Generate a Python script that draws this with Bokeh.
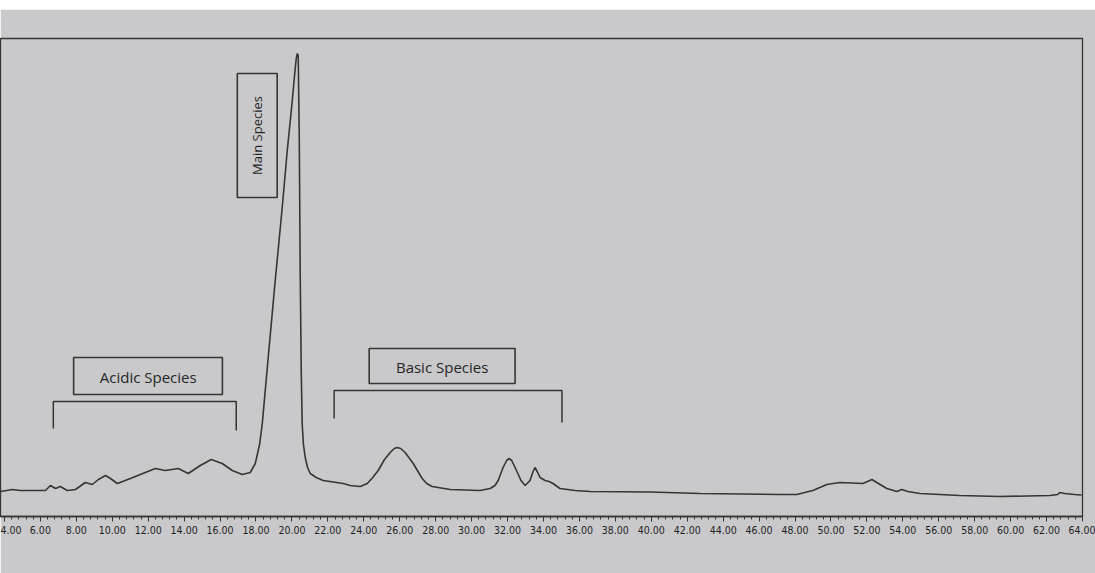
import math
from bokeh.plotting import figure
from bokeh.models import (Range1d, SingleIntervalTicker, PrintfTickFormatter, Label,
                          BoxAnnotation, Div)
from bokeh.layouts import column
from bokeh.embed import file_html
from bokeh.resources import INLINE

# Chromatogram trace: retention time (minutes) and detector signal (arbitrary units)
minutes = [3.78, 4.44, 4.89, 6.28, 6.56, 6.84, 7.11, 7.50, 7.95, 8.50, 8.89, 9.23, 9.62, 9.90,
           10.28, 11.01, 11.84, 12.40, 12.95, 13.68, 14.23, 14.90, 15.51, 16.12, 16.68, 17.24,
           17.68, 17.96, 18.20, 18.35, 18.68, 19.07, 19.46, 19.74, 20.02, 20.15, 20.24, 20.30,
           20.35, 20.41, 20.46, 20.52, 20.57, 20.64, 20.74, 20.87, 21.02, 21.35, 21.74, 22.85,
           23.24, 23.80, 24.19, 24.50, 24.80, 25.15, 25.47, 25.70, 25.86, 26.05, 26.30, 26.75,
           27.25, 27.50, 27.80, 28.81, 30.47, 31.03, 31.30, 31.48, 31.75, 31.95, 32.09, 32.23,
           32.42, 32.75, 32.98, 33.25, 33.42, 33.53, 33.65, 33.81, 34.09, 34.31, 34.53, 34.92,
           35.76, 36.59, 39.93, 42.71, 47.16, 48.10, 48.99, 49.77, 50.50, 51.78, 52.16, 52.28,
           52.55, 53.11, 53.67, 53.94, 54.28, 54.95, 57.17, 59.40, 62.18, 62.62, 62.73, 63.01,
           63.57, 63.95]
signal = [25, 27, 26, 26, 31, 28, 30, 26, 27, 34, 32, 37, 41, 38,
          33, 38, 44, 48, 46, 48, 43, 51, 57, 53, 46, 42,
          44, 53, 72, 93, 159, 236, 309, 366, 416, 442, 458, 463,
          461, 376, 243, 143, 93, 72, 59, 49, 43, 39, 36, 33,
          31, 30, 33, 39, 46, 57, 64, 68, 69, 68, 64, 53,
          38, 33, 30, 27, 26, 28, 31, 36, 49, 56, 58, 56,
          49, 36, 31, 36, 45, 49, 45, 39, 36, 35, 33, 28,
          26, 25, 24.5, 23, 22, 22, 26, 32, 34, 33, 36, 37,
          34, 28, 25, 27, 25, 23, 21, 20, 21, 22, 24, 23,
          22, 21.5]

tick_interval = 2.0
x_start, x_end = 3.78, 64.0
y_start, y_end = 0, 478

# Annotations
acidic_text = "Acidic Species"
basic_text = "Basic Species"
main_text = "Main Species"

PAPER = "#c9c9cb"
INK = "#353535"
TICK_FONT = "DejaVu Sans Condensed, Liberation Sans, sans-serif"

p = figure(width=1095, height=564, output_backend="svg", toolbar_location=None,
           x_range=Range1d(x_start, x_end), y_range=Range1d(y_start, y_end),
           min_border_left=0, min_border_right=13, min_border_top=29, min_border_bottom=57)
p.background_fill_color = PAPER
p.border_fill_color = PAPER
p.outline_line_color = INK
p.outline_line_width = 1.3
p.grid.visible = False
p.yaxis.visible = False

ax = p.xaxis[0]
ax.ticker = SingleIntervalTicker(interval=tick_interval, num_minor_ticks=5)
ax.formatter = PrintfTickFormatter(format="%.2f")
ax.axis_line_color = INK
ax.axis_line_width = 1.3
ax.major_tick_line_color = INK
ax.minor_tick_line_color = INK
ax.major_tick_in = 0
ax.major_tick_out = 5
ax.minor_tick_in = 0
ax.minor_tick_out = 3
ax.major_label_standoff = 4
ax.major_label_text_font = TICK_FONT
ax.major_label_text_font_size = "10.5px"
ax.major_label_text_color = "#1e1e1e"

p.line(minutes, signal, line_color=INK, line_width=1.6)

# "Minutes" axis title
p.add_layout(Label(x=32.25, y=-33, text="Minutes", text_align="center", text_baseline="middle",
                   text_font=TICK_FONT, text_font_style="bold",
                   text_font_size="10.5px", text_color="#1e1e1e"))

def box(l, r, b, t):
    p.add_layout(BoxAnnotation(left=l, right=r, bottom=b, top=t, fill_alpha=0,
                               line_color=INK, line_alpha=1, line_width=1.6))

def bracket(l, r, y, yl, yr):
    p.line([l, l, r, r], [yl, y, y, yr], line_color=INK, line_width=1.5)

# Acidic species
box(7.85, 16.13, 122, 159)
p.add_layout(Label(x=12.0, y=140, text=acidic_text, text_align="center", text_baseline="middle",
                   text_font="Open Sans", text_font_size="15px", text_color="#262626"))
bracket(6.72, 16.90, 115, 88, 86)

# Basic species
box(24.3, 32.42, 133, 168)
p.add_layout(Label(x=28.36, y=150, text=basic_text, text_align="center", text_baseline="middle",
                   text_font="Open Sans", text_font_size="15px", text_color="#262626"))
bracket(22.35, 35.03, 126, 98, 94)

# Main species (vertical)
box(16.96, 19.18, 319, 443)
p.add_layout(Label(x=18.07, y=381, text=main_text, angle=math.pi / 2, text_align="center",
                   text_baseline="middle", text_font="Open Sans", text_font_size="13px",
                   text_color="#262626"))

top = Div(width=1095, height=9, margin=0, styles={"background-color": "white"})
layout = column(top, p, spacing=0, margin=0)

open("out.html", "w").write(file_html(layout, INLINE))
